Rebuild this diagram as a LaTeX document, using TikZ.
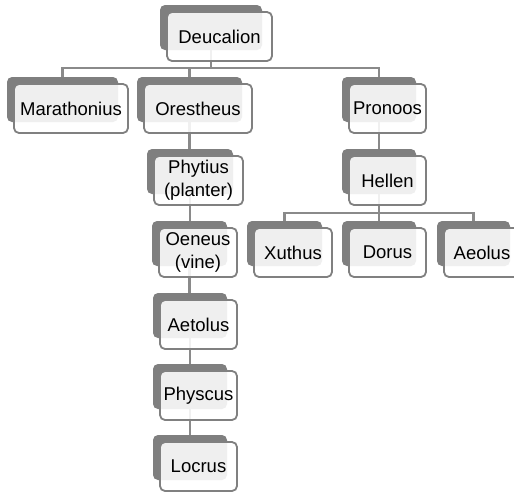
\documentclass[tikz,border=0pt]{standalone}
\usepackage{fontspec}
\setmainfont{Liberation Sans}
\usetikzlibrary{backgrounds}
\definecolor{shade}{HTML}{7F7F7F}
\definecolor{edge}{HTML}{808080}
\definecolor{linkc}{HTML}{8A8A8A}
\tikzset{
 backbox/.style={fill=shade, rounded corners=5pt, inner sep=0pt, outer sep=0pt, minimum height=45pt},
 facebox/.style={fill=white, fill opacity=0.88, text opacity=1, draw=edge, line width=1.8pt, rounded corners=5pt, inner sep=0pt, outer sep=0pt, minimum height=49pt, align=center, font=\fontsize{18.5}{23}\selectfont},
 linkline/.style={draw=linkc, line width=2.2pt},
}
\newcommand\member[5]{%
 \pgfmathsetmacro\mwidth{#3-#2}%
 \node[backbox, minimum width=\mwidth pt] (#1) at ({(#2+#3)/2},{#4+22.5}) {};
 \node[facebox, minimum width=\mwidth pt+3pt] (#1-f) at ({(#2+#3)/2+8.5},{#4+31.5}) {#5};
}
\begin{document}
\begin{tikzpicture}[x=1pt,y=-1pt]
\useasboundingbox (0,0) rectangle (514,491);
\member{deuc}{160}{262}{5}{Deucalion}
\member{mara}{7}{118}{77}{Marathonius}
\member{ores}{137}{242}{77}{Orestheus}
\member{pron}{342}{416}{77}{Pronoos}
\member{phyt}{147}{233}{149}{Phytius\\(planter)}
\member{hell}{342}{416}{149}{Hellen}
\member{oene}{152}{227}{221}{Oeneus\\(vine)}
\member{xuth}{247}{322}{221}{Xuthus}
\member{doru}{342}{416}{221}{Dorus}
\member{aeol}{437}{510}{221}{Aeolus}
\member{aeto}{153}{227}{293}{Aetolus}
\member{phys}{153}{227}{364}{Physcus}
\member{locr}{153}{227}{435}{Locrus}
\coordinate (bar1) at (0,68);
\coordinate (bar2) at (0,213);
\begin{scope}[on background layer]
\fill[white] (0,0) rectangle (514,491);
\draw[linkline] (deuc.south) -- (deuc.south |- bar1) -| (mara.north);
\draw[linkline] (deuc.south |- bar1) -| (ores.north);
\draw[linkline] (deuc.south |- bar1) -| (pron.north);
\draw[linkline] (ores.south) -- (ores.south |- phyt.north);
\draw[linkline] (phyt.south) -- (phyt.south |- oene.north);
\draw[linkline] (oene.south) -- (oene.south |- aeto.north);
\draw[linkline] (aeto.south) -- (aeto.south |- phys.north);
\draw[linkline] (phys.south) -- (phys.south |- locr.north);
\draw[linkline] (pron.south) -- (pron.south |- hell.north);
\draw[linkline] (hell.south) -- (hell.south |- bar2) -| (xuth.north);
\draw[linkline] (hell.south |- bar2) -| (doru.north);
\draw[linkline] (hell.south |- bar2) -| (aeol.north);
\end{scope}
\end{tikzpicture}
\end{document}
